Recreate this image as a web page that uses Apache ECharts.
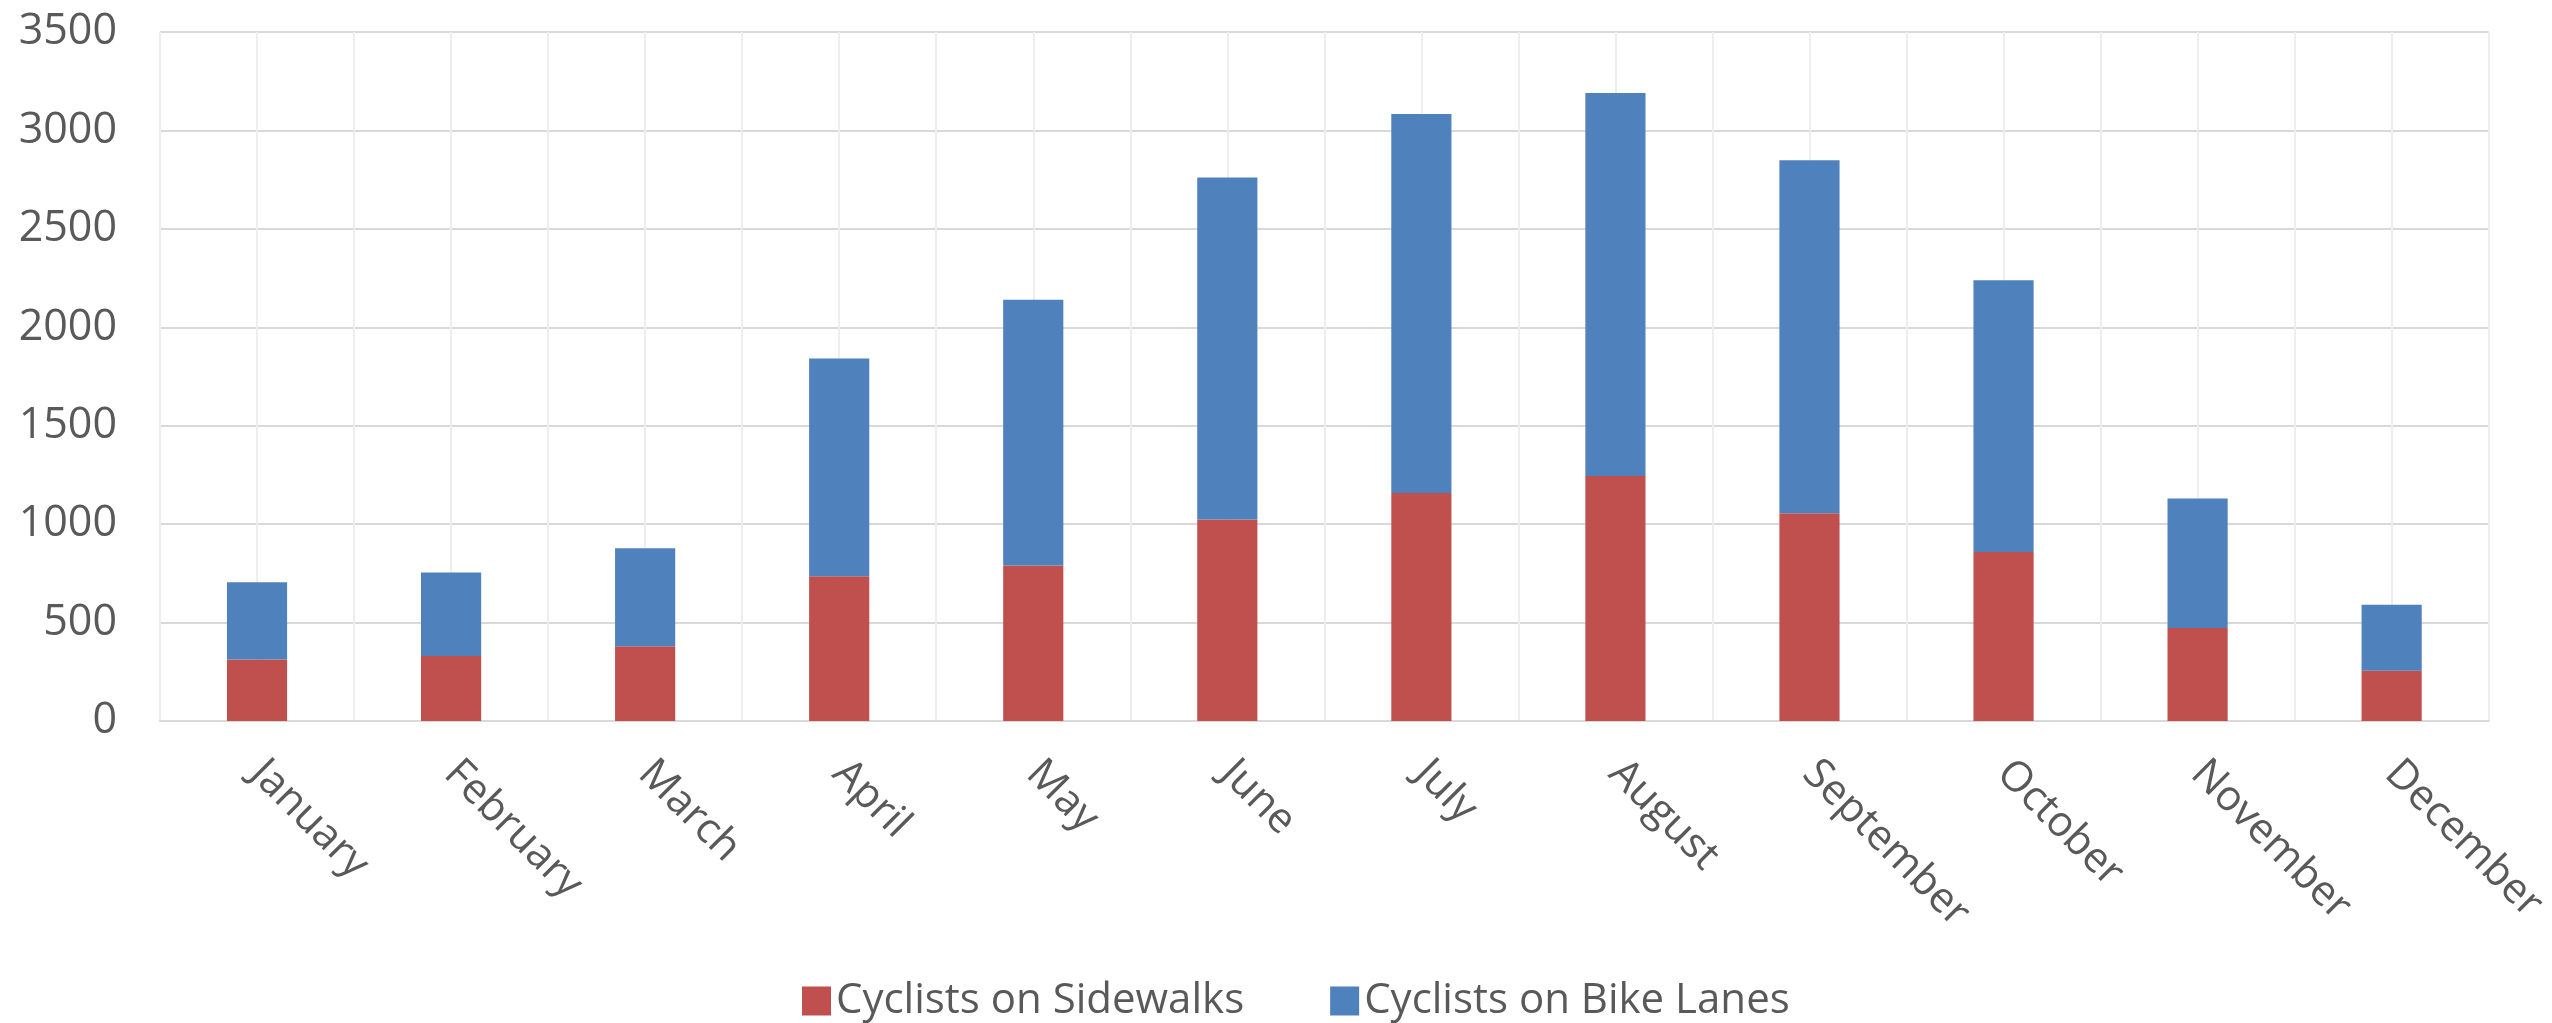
<!DOCTYPE html>
<html>
<head>
<meta charset="utf-8">
<script src="https://cdn.jsdelivr.net/npm/echarts@6/dist/echarts.min.js"></script>
<style>
html, body { margin: 0; padding: 0; background: #ffffff; }
#main { width: 2552px; height: 1023px; }
</style>
</head>
<body>
<div id="main"></div>
<script>
// months on the category axis
var months = ["January", "February", "March", "April", "May", "June",
	"July", "August", "September", "October", "November", "December"];
var sidewalks = [312, 330, 380, 735, 790, 1023, 1158, 1245, 1055, 858, 472, 255];
var bikeLanes = [393, 424, 497, 1107, 1350, 1738, 1926, 1945, 1793, 1381, 658, 335];
var seriesNames = ["Cyclists on Sidewalks", "Cyclists on Bike Lanes"];
var seriesColors = ["#C0504D", "#4F81BD"];

var echart = echarts.init(document.getElementById('main'));
var font = "'Open Sans', 'Liberation Sans', sans-serif";

var option = {
	backgroundColor : "#ffffff",
	animation : false,
	color : seriesColors,
	grid : {
		left : 160,
		right : 58,
		top : 32,
		bottom : 302
	},
	legend : {
		data : seriesNames,
		left : 797,
		top : 975,
		itemWidth : 29,
		itemHeight : 29,
		itemGap : 86,
		icon : "rect",
		textStyle : {
			fontFamily : font,
			fontSize : 42,
			color : "#595959"
		}
	},
	xAxis : [
		{
			type : "category",
			data : months,
			axisLine : { show : true, lineStyle : { color : "#d9d9d9", width : 2 } },
			axisTick : { show : false },
			splitLine : { show : false },
			axisLabel : {
				rotate : -45,
				margin : 46,
				fontFamily : font,
				fontSize : 42,
				color : "#595959",
				interval : 0
			}
		},
		{
			// hidden axis, only for the light vertical grid lines every half month
			type : "value",
			min : 0,
			max : 24,
			interval : 1,
			position : "top",
			axisLine : { show : false },
			axisTick : { show : false },
			axisLabel : { show : false },
			splitLine : { show : true, lineStyle : { color : "#eeeeee", width : 2 } }
		}
	],
	yAxis : {
		type : "value",
		min : 0,
		max : 3500,
		interval : 500,
		axisLine : { show : false },
		axisTick : { show : false },
		axisLabel : {
			margin : 43,
			fontFamily : font,
			fontSize : 43,
			color : "#595959",
			formatter : function(v){ return String(v); }
		},
		splitLine : { lineStyle : { color : "#d9d9d9", width : 2 } }
	},
	series : [
		{
			name : seriesNames[0],
			type : "bar",
			stack : "total",
			xAxisIndex : 0,
			barWidth : "31%",
			data : sidewalks
		},
		{
			name : seriesNames[1],
			type : "bar",
			stack : "total",
			xAxisIndex : 0,
			barWidth : "31%",
			data : bikeLanes
		}
	]
};
echart.setOption(option);
</script>
</body>
</html>
